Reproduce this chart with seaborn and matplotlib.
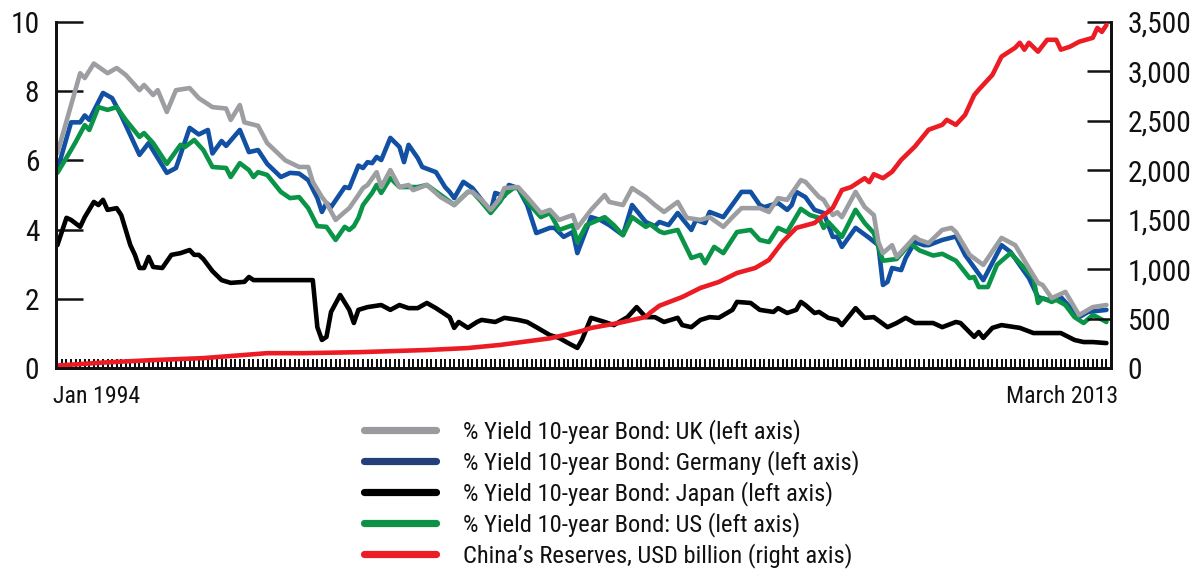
import os
import matplotlib
matplotlib.use("Agg")
import matplotlib.pyplot as plt
import matplotlib.ticker as mticker
from matplotlib import font_manager as fm
from matplotlib.lines import Line2D
from matplotlib.transforms import blended_transform_factory
import seaborn as sns

# month index: 0 = Jan 1994 ... 230 = March 2013
uk_month = [0, 5, 6, 8, 11, 13, 15, 18, 19, 21, 22, 24, 26, 29, 31, 34, 37, 38, 40, 41, 44, 46, 50, 53,
            55, 56, 58, 59, 61, 63, 64, 66, 67, 68, 70, 71, 73, 75, 77, 78, 81, 84, 87, 90, 91, 93, 95,
            97, 98, 101, 103, 106, 108, 110, 113, 114, 117, 120, 121, 124, 126, 129, 131, 133, 136, 138,
            141, 143, 146, 148, 150, 154, 156, 158, 160, 163, 164, 167, 168, 170, 171, 172, 175, 177,
            179, 180, 181, 183, 184, 188, 189, 191, 194, 196, 197, 200, 203, 207, 210, 213, 215, 216,
            218, 221, 224, 227, 230]
uk_yield = [6.21, 8.52, 8.38, 8.8, 8.52, 8.67, 8.47, 8.03, 8.18, 7.89, 8.03, 7.4, 8.03, 8.09, 7.8, 7.54,
            7.5, 7.17, 7.6, 7.1, 7.0, 6.5, 6.0, 5.81, 5.81, 5.38, 4.94, 4.77, 4.28, 4.51, 4.62, 5.0, 5.2,
            5.29, 5.66, 5.23, 5.72, 5.23, 5.29, 5.14, 5.29, 4.94, 4.71, 5.09, 5.09, 4.86, 4.57, 4.9, 5.2,
            5.23, 4.94, 4.48, 4.57, 4.28, 4.42, 4.05, 4.57, 5.0, 4.8, 4.71, 5.2, 4.94, 4.71, 4.51, 4.8,
            4.34, 4.28, 4.36, 4.08, 4.36, 4.62, 4.62, 4.51, 4.91, 4.86, 5.43, 5.38, 4.94, 4.86, 4.42, 4.5,
            4.36, 5.09, 4.65, 4.42, 3.64, 3.32, 3.55, 3.21, 3.79, 3.7, 3.61, 3.99, 4.05, 3.93, 3.27, 2.98,
            3.76, 3.55, 2.89, 2.46, 2.4, 2.02, 2.2, 1.53, 1.76, 1.82]

de_month = [0, 3, 5, 6, 7, 10, 12, 14, 16, 18, 20, 22, 24, 26, 29, 31, 33, 34, 36, 37, 40, 42, 44, 46,
            49, 51, 53, 55, 57, 58, 59, 60, 63, 64, 66, 67, 68, 69, 70, 71, 73, 75, 76, 77, 79, 80, 83,
            85, 86, 87, 89, 91, 93, 95, 96, 98, 99, 101, 103, 105, 108, 109, 111, 113, 114, 117, 119,
            121, 124, 126, 129, 131, 132, 134, 136, 139, 140, 142, 143, 146, 150, 152, 154, 155, 158,
            160, 161, 162, 164, 166, 168, 170, 171, 172, 175, 178, 180, 181, 182, 183, 185, 186, 188,
            190, 191, 194, 197, 199, 203, 207, 209, 213, 215, 217, 220, 224, 226, 230]
de_yield = [5.72, 7.1, 7.1, 7.3, 7.17, 7.95, 7.8, 7.3, 6.73, 6.16, 6.5, 6.07, 5.64, 5.78, 6.94, 6.75,
            6.88, 6.2, 6.56, 6.42, 6.88, 6.24, 6.3, 5.9, 5.52, 5.64, 5.62, 5.43, 4.91, 4.51, 4.77, 4.65,
            5.23, 5.2, 5.85, 5.78, 5.95, 5.92, 6.1, 6.01, 6.65, 6.39, 5.95, 6.45, 6.07, 5.81, 5.66, 5.23,
            5.09, 4.91, 5.38, 5.2, 4.86, 4.51, 5.06, 4.97, 5.29, 5.2, 4.71, 3.9, 4.05, 4.05, 3.79, 3.93,
            3.32, 4.36, 4.28, 4.13, 3.84, 4.71, 4.22, 4.1, 4.22, 4.13, 4.48, 3.99, 4.28, 4.19, 4.51, 4.36,
            5.09, 5.09, 4.71, 4.65, 4.77, 4.57, 4.71, 5.09, 4.94, 4.57, 4.48, 3.79, 3.79, 3.5, 4.05, 3.76,
            3.55, 2.4, 2.49, 2.89, 2.83, 3.18, 3.64, 3.55, 3.55, 3.7, 3.8, 3.27, 2.54, 3.55, 3.35, 2.6,
            2.05, 1.97, 2.05, 1.47, 1.62, 1.68]

jp_month = [0, 2, 3, 5, 6, 8, 9, 10, 11, 13, 14, 16, 17, 18, 19, 20, 21, 23, 25, 27, 29, 30, 31, 32,
            34, 36, 38, 41, 42, 43, 56, 57, 58, 59, 60, 62, 64, 65, 66, 68, 71, 73, 75, 77, 79, 81, 83,
            86, 87, 88, 90, 92, 93, 96, 98, 101, 103, 105, 108, 110, 112, 114, 115, 117, 120, 122, 125,
            127, 129, 131, 133, 136, 137, 139, 141, 143, 145, 148, 149, 152, 154, 157, 158, 160, 162,
            163, 164, 166, 167, 169, 171, 172, 175, 177, 179, 182, 184, 186, 188, 192, 194, 197, 198,
            201, 202, 203, 205, 207, 210, 211, 214, 220, 223, 225, 227, 230]
jp_yield = [3.55, 4.34, 4.28, 4.08, 4.36, 4.8, 4.71, 4.86, 4.57, 4.62, 4.42, 3.55, 3.27, 2.89, 2.89,
            3.21, 2.92, 2.89, 3.27, 3.32, 3.41, 3.27, 3.27, 3.15, 2.8, 2.54, 2.46, 2.49, 2.63, 2.54, 2.54,
            1.18, 0.81, 0.9, 1.62, 2.11, 1.68, 1.3, 1.68, 1.76, 1.82, 1.68, 1.82, 1.73, 1.73, 1.88, 1.73,
            1.47, 1.16, 1.33, 1.16, 1.33, 1.39, 1.33, 1.45, 1.39, 1.33, 1.18, 0.95, 0.87, 0.72, 0.58,
            0.81, 1.45, 1.33, 1.24, 1.47, 1.76, 1.47, 1.47, 1.33, 1.45, 1.24, 1.18, 1.39, 1.47, 1.45,
            1.68, 1.91, 1.88, 1.68, 1.62, 1.73, 1.59, 1.68, 1.91, 1.82, 1.59, 1.62, 1.45, 1.39, 1.24,
            1.73, 1.45, 1.47, 1.18, 1.3, 1.45, 1.3, 1.3, 1.18, 1.33, 1.3, 0.9, 1.04, 0.87, 1.16, 1.24,
            1.18, 1.16, 1.01, 1.01, 0.81, 0.75, 0.75, 0.72]

us_month = [0, 3, 4, 6, 7, 9, 11, 13, 15, 18, 19, 21, 24, 27, 28, 30, 32, 34, 37, 38, 40, 42, 43, 44,
            46, 49, 51, 53, 55, 57, 59, 61, 63, 64, 65, 66, 67, 69, 70, 71, 73, 75, 79, 81, 85, 87, 90,
            91, 93, 95, 97, 98, 100, 101, 103, 106, 108, 110, 113, 114, 116, 120, 122, 124, 126, 129,
            130, 132, 133, 136, 139, 141, 142, 144, 146, 149, 152, 154, 156, 158, 160, 163, 165, 167,
            168, 169, 172, 175, 177, 179, 181, 184, 187, 189, 192, 194, 197, 200, 201, 202, 204, 206,
            208, 209, 212, 214, 215, 216, 218, 219, 221, 223, 225, 227, 228, 230]
us_yield = [5.64, 6.3, 6.53, 7.02, 6.88, 7.54, 7.46, 7.54, 7.17, 6.68, 6.79, 6.5, 5.9, 6.45, 6.39, 6.59,
            6.3, 5.81, 5.78, 5.52, 5.92, 5.72, 5.52, 5.66, 5.58, 5.09, 4.91, 4.94, 4.62, 4.1, 4.08, 3.7,
            4.08, 3.99, 4.1, 4.34, 4.71, 5.06, 5.29, 5.06, 5.49, 5.23, 5.23, 5.29, 4.91, 4.71, 5.09, 5.09,
            4.8, 4.48, 4.8, 5.0, 5.2, 5.2, 4.8, 4.36, 4.48, 3.99, 4.13, 3.64, 4.13, 4.36, 4.13, 3.84,
            4.36, 4.08, 4.15, 3.95, 3.9, 3.99, 3.18, 3.27, 3.03, 3.5, 3.32, 3.93, 3.99, 3.7, 3.64, 4.05,
            3.93, 4.6, 4.42, 4.34, 4.05, 4.22, 3.79, 4.57, 4.19, 3.9, 3.1, 3.15, 3.6, 3.4, 3.25, 3.3,
            3.1, 2.6, 2.63, 2.34, 2.34, 2.98, 3.21, 3.32, 2.89, 2.6, 1.88, 2.02, 1.91, 1.97, 1.82, 1.47,
            1.3, 1.53, 1.47, 1.33]

cn_month = [0, 10, 21, 32, 46, 54, 66, 81, 90, 97, 108, 115, 117, 123, 129, 130, 132, 137, 141, 145,
            149, 153, 156, 159, 162, 166, 170, 172, 174, 177, 178, 179, 181, 183, 185, 188, 191, 194,
            195, 197, 199, 201, 202, 205, 207, 210, 211, 212, 213, 215, 217, 219, 220, 222, 224, 227,
            228, 229, 230]
cn_reserves = [25, 55, 80, 100, 150, 150, 160, 182, 202, 233, 300, 375, 405, 455, 516, 560, 630, 718,
               810, 870, 961, 1012, 1093, 1275, 1417, 1467, 1620, 1800, 1830, 1920, 1880, 1960, 1920,
               1985, 2105, 2240, 2410, 2460, 2510, 2460, 2560, 2760, 2815, 2965, 3150, 3240, 3290,
               3220, 3290, 3200, 3320, 3320, 3220, 3250, 3300, 3340, 3440, 3400, 3470]

labels = ["% Yield 10-year Bond: UK (left axis)",
          "% Yield 10-year Bond: Germany (left axis)",
          "% Yield 10-year Bond: Japan (left axis)",
          "% Yield 10-year Bond: US (left axis)",
          "China\u2019s Reserves, USD billion (right axis)"]
left_ticks = [0, 2, 4, 6, 8, 10]
right_ticks = [0, 500, 1000, 1500, 2000, 2500, 3000, 3500]
x_labels = ["Jan 1994", "March 2013"]

C_UK = "#9d9ea1"
C_DE = "#1150a2"
C_JP = "#000000"
C_US = "#0a9447"
C_CN = "#ec1c24"
TXT = "#111111"

sns.set_style("white")


def find_narrow_font():
    prefs = ['liberationsansnarrow-regular', 'robotocondensed-regular', 'notosans-condensed.',
             'dejavusanscondensed.', 'opensans-condensedregular', 'opensans_condensed-regular',
             'notosans-semicondensed.', 'opensans-semicondensed']
    entries = {}
    for f in fm.fontManager.ttflist:
        entries.setdefault(os.path.basename(f.fname).lower(), f)
    for pref in prefs:
        for b, f in entries.items():
            if b.startswith(pref):
                return f
    bad = ('bold', 'italic', 'oblique', 'light', 'thin', 'medium', 'black', 'semi', 'extra',
           'ultra', 'heavy', 'mono')
    for b, f in entries.items():
        if 'condensed' in b or 'narrow' in b:
            rest = b.replace('condensed', '').replace('narrow', '')
            if not any(x in rest for x in bad):
                return f
    return None


nf = find_narrow_font()
if nf is not None:
    plt.rcParams['font.family'] = [nf.name, 'Liberation Sans', 'DejaVu Sans']
    plt.rcParams['font.stretch'] = nf.stretch
else:
    plt.rcParams['font.family'] = ['Liberation Sans', 'DejaVu Sans']

fig = plt.figure(figsize=(12.02, 5.73), dpi=100)
renderer = fig.canvas.get_renderer()


def measure(s, size):
    t = fig.text(0, 0, s, fontsize=size)
    bb = t.get_window_extent(renderer=renderer)
    t.remove()
    return bb.width, bb.height


def fit(s, target_px, cap):
    w, _ = measure(s, 20)
    return min(cap, 20 * target_px / w)


ytick_size = fit("3,500", 64, 23)
xlab_size = fit("March 2013", 112, 19.5)
leg_size = fit(labels[1], 395, 18.5)

ax = fig.add_axes([56 / 1202, 1 - 368 / 573, (1111 - 56) / 1202, 346 / 573])
ax2 = ax.twinx()

LW = 3.3
kw = dict(estimator=None, errorbar=None, legend=False)
sns.lineplot(x=jp_month, y=jp_yield, ax=ax, color=C_JP, lw=LW, **kw)
sns.lineplot(x=de_month, y=de_yield, ax=ax, color=C_DE, lw=LW, **kw)
sns.lineplot(x=us_month, y=us_yield, ax=ax, color=C_US, lw=LW, **kw)
sns.lineplot(x=uk_month, y=uk_yield, ax=ax, color=C_UK, lw=LW, **kw)
sns.lineplot(x=cn_month, y=cn_reserves, ax=ax2, color=C_CN, lw=LW, **kw)

ax.set_xlim(-0.3, 231)
ax.set_ylim(0, 10)
ax2.set_ylim(0, 3500)
ax.set_yticks(left_ticks)
ax2.set_yticks(right_ticks)
ax2.yaxis.set_major_formatter(mticker.StrMethodFormatter('{x:,.0f}'))
ax.set_xticks([])
ax.set_xticks(range(0, 231), minor=True)
ax.set_xlabel("")
ax.set_ylabel("")
ax2.set_ylabel("")

ax.tick_params(axis='y', which='major', left=True, right=False, direction='in', length=19.5,
               width=1.8, pad=12, labelsize=ytick_size, colors=TXT)
ax2.tick_params(axis='y', which='major', right=True, left=False, direction='in', length=17.5,
                width=1.8, pad=12, labelsize=ytick_size, colors=TXT)
ax.tick_params(axis='x', which='minor', bottom=True, top=False, direction='in', length=6.5,
               width=1.35, color='#000000')
ax2.tick_params(axis='x', which='both', bottom=False, top=False)

for a in (ax, ax2):
    a.spines['top'].set_visible(False)
    for s in ('left', 'right', 'bottom'):
        a.spines[s].set_linewidth(2.0)
        a.spines[s].set_color(TXT)

tr = blended_transform_factory(ax.transData, ax.transAxes)
ax.text(-0.9, -0.05, x_labels[0], transform=tr, ha='left', va='top', fontsize=xlab_size, color=TXT)
ax.text(232.6, -0.05, x_labels[1], transform=tr, ha='right', va='top', fontsize=xlab_size, color=TXT)

# legend geometry
fs_px = leg_size * 100 / 72
_, row_h = measure(labels[1], leg_size)
h_colors = ["#9a9b9e", "#233f7b", "#000000", "#0c9146", "#ec1d25"]
handles = [Line2D([0], [0], color=c, lw=5.2, solid_capstyle='round') for c in h_colors]
fig.legend(handles, labels, loc='upper left',
           bbox_to_anchor=(364 / 1202, 1 - (432 - row_h / 2) / 573),
           frameon=False, fontsize=leg_size, handlelength=72 / fs_px,
           handletextpad=27 / fs_px, labelspacing=max(0.0, (31 - row_h) / fs_px),
           borderpad=0, borderaxespad=0, labelcolor=TXT)

fig.savefig("out.png", dpi=100)
